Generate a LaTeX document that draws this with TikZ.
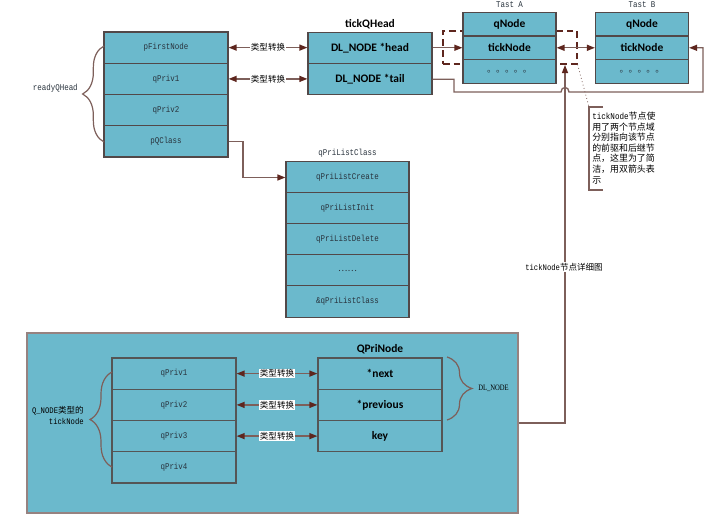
\documentclass[tikz,border=0pt]{standalone}
\usepackage{fontspec}
\setmainfont{Liberation Serif}
\newfontfamily\monof[FakeStretch=0.85]{Liberation Mono}
\newfontfamily\cjk{Noto Sans CJK SC}
\newfontfamily\calfont{Carlito}
\newfontfamily\dlfont[FakeStretch=0.8]{Liberation Serif}
\usetikzlibrary{arrows.meta,decorations.pathreplacing,calc}
\definecolor{cellblue}{RGB}{107,185,204}
\definecolor{bordc}{RGB}{82,72,72}
\definecolor{linec}{RGB}{125,95,90}
\definecolor{arrc}{RGB}{94,38,30}
\definecolor{txtc}{RGB}{40,50,60}
\definecolor{bigbord}{RGB}{150,130,128}
\definecolor{innerb}{RGB}{85,85,85}
\tikzset{
  cell/.style={draw=bordc, line width=0.9pt, fill=cellblue, minimum width=93pt, minimum height=23.44pt, inner sep=0pt, text=txtc, font=\monof\fontsize{6.6}{8}\selectfont},
  bcell/.style={cell, text=black, font=\calfont\bfseries\fontsize{8.6}{10}\selectfont},
  tcell/.style={cell, minimum width=69.75pt, minimum height=17.85pt},
  tbcell/.style={bcell, minimum width=69.75pt, minimum height=17.85pt},
  lcell/.style={cell, minimum width=92.25pt},
  icell/.style={cell, draw=innerb},
  ibcell/.style={bcell, draw=innerb},
  conn/.style={draw=linec, line width=1pt},
  tipend/.style={-{Triangle[length=6pt,width=4.5pt,color=arrc]}},
  dbl/.style={{Triangle[length=6pt,width=4.5pt,color=arrc]}-{Triangle[length=6pt,width=4.5pt,color=arrc]}},
  lab/.style={fill=white, inner sep=0.6pt, text=black, font=\cjk\fontsize{6.4}{7}\selectfont},
  ttl/.style={inner sep=0pt, text=black, font=\calfont\bfseries\fontsize{8.6}{10}\selectfont},
  mttl/.style={inner sep=0pt, text=txtc, font=\monof\fontsize{6.6}{8}\selectfont},
  bracestyle/.style={draw=linec, line width=0.9pt, decorate},
}
\begin{document}
\begin{tikzpicture}[x=0.75pt,y=-0.75pt]
\useasboundingbox (0,0) rectangle (714,518);

% readyQHead
\node[cell] (pfn) at (166,47.6) {pFirstNode};
\node[cell] (qp1t) at (166,78.9) {qPriv1};
\node[cell] (qp2t) at (166,110.1) {qPriv2};
\node[cell] (pqc) at (166,141.4) {pQClass};
\draw[bracestyle, decoration={brace, amplitude=16pt}] (104,142) -- (104,46);
\node[mttl, anchor=east] (rqh) at (78,88) {readyQHead};

% tickQHead
\node[ttl] (tqh) at (370,24) {tickQHead};
\node[bcell] (head) at (370,47.75) {DL\_NODE *head};
\node[bcell] (tail) at (370,79.25) {DL\_NODE *tail};
\draw[conn, dbl] (pfn.east) -- node[lab] {类型转换} (pfn.east -| head.west);
\draw[conn, dbl] (qp1t.east) -- node[lab] {类型转换} (qp1t.east -| tail.west);

% dashed frame (behind Tast A)
\node[draw=arrc, line width=0.9pt, dash pattern=on 5pt off 3pt, minimum width=100.5pt, minimum height=24.75pt, inner sep=0pt] (dash) at (510,47.5) {};

% Tast A
\node[mttl] (tat) at (509.5,5) {Tast A};
\node[tbcell] (taQ) at (509.5,24) {qNode};
\node[tbcell] (taT) at (509.5,47.8) {tickNode};
\node[tcell, font=\cjk\fontsize{6.7}{8}\selectfont] (taD) at (509.5,71.6) {。。。。。};

% Tast B
\node[mttl] (tbt) at (642,5) {Tast B};
\node[tbcell] (tbQ) at (642,24) {qNode};
\node[tbcell] (tbT) at (642,47.8) {tickNode};
\node[tcell, font=\cjk\fontsize{6.7}{8}\selectfont] (tbD) at (642,71.6) {。。。。。};

\draw[conn, tipend] (head.east) -- (head.east -| taT.west);
\draw[conn, dbl] (taT.east) -- (tbT.west);
\draw[conn, tipend] (tail.east) -- (454,79.25) -- (454,92) -- (561,92) .. controls (561,86) and (569,86) .. (569,92) -- (703,92) -- (703,47.8) -- (tbT.east);

% note
\coordinate (nb) at (589,107);
\draw[linec, line width=0.6pt, dotted] (dash.south east) -- (nb);
\draw[linec, line width=0.9pt] (603,107) -- (nb) -- (589,190) -- (603,190);
\node[anchor=west, align=left, inner sep=0pt, text=black, font=\cjk\fontsize{6.7}{7.9}\selectfont] (note) at (592,148) {{\monof tickNode}节点使\\用了两个节点域\\分别指向该节点\\的前驱和后继节\\点，这里为了简\\洁，用双箭头表\\示};

% qPriListClass
\node[mttl] (plct) at (347.5,153) {qPriListClass};
\node[lcell] (pl1) at (347.5,177.5) {qPriListCreate};
\node[lcell] (pl2) at (347.5,208.5) {qPriListInit};
\node[lcell] (pl3) at (347.5,239.5) {qPriListDelete};
\node[lcell, font=\cjk\fontsize{6.6}{8}\selectfont] (pl4) at (347.5,270.5) {……};
\node[lcell] (pl5) at (347.5,301.5) {\&qPriListClass};
\draw[conn, tipend] (pqc.east) -- (243,141.4) |- (pl1.west);

% bottom detail box
\node[draw=bigbord, fill=cellblue, line width=1pt, minimum width=368.25pt, minimum height=135pt, inner sep=0pt] (big) at (272.5,423) {};
\node[icell] (bq1) at (174,373.6) {qPriv1};
\node[icell] (bq2) at (174,404.9) {qPriv2};
\node[icell] (bq3) at (174,436.1) {qPriv3};
\node[icell] (bq4) at (174,467.4) {qPriv4};
\node[ttl] (qpn) at (380,349) {QPriNode};
\node[ibcell] (bn1) at (380,373.6) {*next};
\node[ibcell] (bn2) at (380,404.9) {*previous};
\node[ibcell] (bn3) at (380,436.1) {key};
\draw[conn, dbl] (bq1.east) -- node[lab] {类型转换} (bn1.west);
\draw[conn, dbl] (bq2.east) -- node[lab] {类型转换} (bn2.west);
\draw[conn, dbl] (bq3.east) -- node[lab] {类型转换} (bn3.west);
\draw[bracestyle, decoration={brace, amplitude=16.5pt}] (112,467) -- (112,372);
\node[anchor=east, align=right, inner sep=0pt, text=black, font=\cjk\fontsize{6.4}{8}\selectfont] (qnl) at (84,415.5) {{\monof Q\_NODE}类型的\\{\monof tickNode}};
\draw[bracestyle, decoration={brace, amplitude=18.75pt}] (447,357) -- (447,420);
\node[anchor=west, inner sep=0pt, text=black, font=\dlfont\fontsize{6.2}{7}\selectfont] (dln) at (478,388.5) {DL\_NODE};

% link from detail box up to tickNode
\coordinate (up) at (565,65);
\draw[conn, tipend] (big.east) -| (up);
\node[fill=white, inner sep=0.8pt, text=black, font=\cjk\fontsize{6.4}{7}\selectfont] (dlab) at (564,267) {{\monof tickNode}节点详细图};
\end{tikzpicture}
\end{document}
